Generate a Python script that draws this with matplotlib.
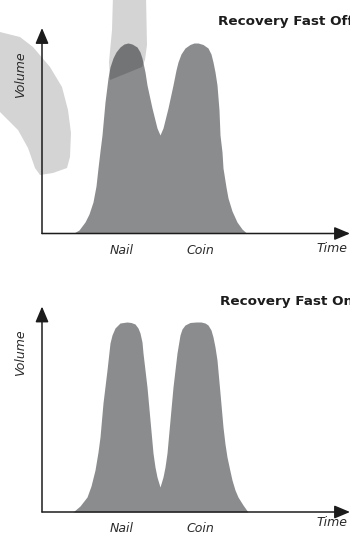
import matplotlib
matplotlib.use("Agg")
from matplotlib import pyplot as plt
from matplotlib.patches import Polygon

# Volume over time, fast recovery switched off (peaks partly merge)
off_time = [31, 37, 43, 47, 51, 54, 56, 58, 60, 63, 66, 68, 71, 74, 78, 82, 86, 90, 95, 98,
            100, 103, 105, 110, 115, 118, 121, 126, 131, 134, 136, 139, 143, 148, 152, 156,
            161, 166, 169, 171, 173, 175, 177, 178, 180, 181, 184, 186, 190, 195, 200, 205]
off_volume = [0, 3.5, 11.5, 19.5, 31.5, 47.5, 65.5, 82.5, 98.5, 131.5, 155.5, 166.5, 175.5,
              181.5, 186.5, 189.5, 190.5, 189.5, 186.5, 181.5, 175.5, 161.5, 148.5, 125.5,
              105.5, 98.5, 105.5, 125.5, 148.5, 163.5, 171.5, 179.5, 185.5, 189, 190.5, 190.5,
              189, 185.5, 179.5, 171.5, 161.5, 148.5, 123.5, 98.5, 81.5, 65.5, 46.5, 35.5,
              22.5, 11.5, 4.5, 0]

# Volume over time, fast recovery switched on (peaks separate)
on_time = [31, 38, 45, 49, 53, 56, 58, 61, 65, 68, 70, 73, 78, 85, 89, 93, 96, 98, 100, 101,
           103, 105, 108, 111, 113, 115, 118, 121, 123, 125, 128, 131, 133, 135, 138, 140, 143,
           148, 154, 159, 163, 166, 169, 171, 173, 175, 178, 181, 183, 185, 188, 190, 193, 196,
           201, 206]
on_volume = [0, 6, 15, 26, 42, 60, 75, 109, 142, 169, 177, 184, 189, 190, 189.5, 188, 184, 179,
             170, 159, 142, 125, 92, 59, 45, 35, 25, 35, 45, 59, 92, 125, 142, 159, 177, 183,
             187, 189.5, 190, 190, 189, 187, 182, 175, 165, 152, 119, 85, 68, 55, 41, 32, 22,
             15, 7, 0]

peak_labels = ["Nail", "Coin"]
peak_label_time = [80, 158]
titles = ["Recovery Fast Off", "Recovery Fast On"]

# light grey overlay shapes in the upper panel
arc_left_t = [-47, -42, -22, -9, 8, 20, 26, 29, 28, 25, 11, -2, -7, -14, -24, -42, -47]
arc_left_v = [201.5, 201.5, 196.5, 186.5, 166.5, 146.5, 123.5, 100.5, 76.5, 65.5, 60.5,
              58.5, 65.5, 85.5, 103.5, 121.5, 121.5]
arc_top_t = [71, 104, 105, 103, 100, 68, 67, 70]
arc_top_v = [238.5, 238.5, 188.5, 173.5, 166.5, 153.5, 171.5, 203.5]

FILL = "#8b8c8e"
INK = "#1c1c1c"

fig = plt.figure(figsize=(3.5, 5.34), dpi=100)
ax_off = fig.add_axes([0, 0.5, 1, 0.5])
ax_on = fig.add_axes([0, 0, 1, 0.5])

panels = [
    (ax_off, off_time, off_volume, (-33.5, 233.5), 211.5, -17.5, -15.5),
    (ax_on, on_time, on_volume, (-22, 245), 210, -16.5, -11),
]

for i, (ax, t, v, ylim, title_v, lab_v, time_v) in enumerate(panels):
    ax.set_xlim(-42, 308)
    ax.set_ylim(*ylim)
    ax.axis("off")

    ax.fill_between(t, v, 0, color=FILL, lw=0, zorder=2)

    arrow = dict(arrowstyle="-|>,head_length=0.95,head_width=0.4", lw=1.1,
                 color=INK, mutation_scale=10, shrinkA=0, shrinkB=0)
    ax.annotate("", xy=(308, 0), xytext=(0, 0), arrowprops=arrow, zorder=5,
                annotation_clip=False)
    ax.annotate("", xy=(0, 205.5), xytext=(0, 0), arrowprops=arrow, zorder=5)

    ax.text(176 + 2 * i, title_v, titles[i], fontsize=9.7, fontweight="bold",
            color=INK, ha="left", va="center", zorder=6)
    for name, tx in zip(peak_labels, peak_label_time):
        ax.text(tx, lab_v, name, fontsize=9, style="italic", color="#2a2a2a",
                ha="center", va="center", zorder=6)
    ax.text(290, time_v, "Time", fontsize=9, style="italic", color="#2a2a2a",
            ha="center", va="center", zorder=6)
    ax.text(-21, 159, "Volume", fontsize=9, style="italic", color="#2a2a2a",
            rotation=90, ha="center", va="center", zorder=6)

# translucent grey band sweeping over the upper chart
for bt, bv in [(arc_left_t, arc_left_v), (arc_top_t, arc_top_v)]:
    ax_off.add_patch(Polygon(list(zip(bt, bv)), closed=True, facecolor="black",
                             alpha=0.17, lw=0, zorder=3))

fig.savefig("out.png", dpi=100)
